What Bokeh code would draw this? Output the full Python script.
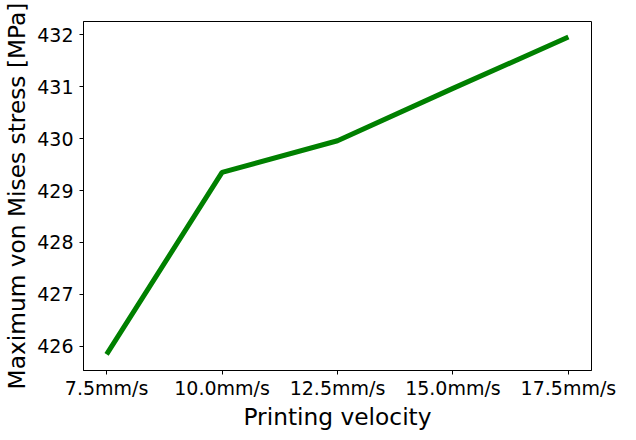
from bokeh.plotting import figure
from bokeh.models import FixedTicker, Range1d
from bokeh.embed import file_html
from bokeh.resources import INLINE

velocity = [7.5, 10.0, 12.5, 15.0, 17.5]
velocity_labels = ["7.5mm/s", "10.0mm/s", "12.5mm/s", "15.0mm/s", "17.5mm/s"]
stress = [425.84, 429.35, 429.96, 430.97, 431.96]
y_ticks = [426, 427, 428, 429, 430, 431, 432]

p = figure(width=620, height=432, output_backend="svg", toolbar_location=None,
           x_range=Range1d(7.0, 18.0), y_range=Range1d(425.53, 432.26),
           min_border_left=82, min_border_top=21, min_border_right=29, min_border_bottom=5)

p.line(velocity, stress, line_color="#008000", line_width=5)

p.grid.visible = False
p.outline_line_color = "black"
p.outline_line_width = 1
p.background_fill_color = "white"
p.border_fill_color = "white"

p.xaxis.ticker = FixedTicker(ticks=velocity)
p.xaxis.major_label_overrides = {v: l for v, l in zip(velocity, velocity_labels)}
p.yaxis.ticker = FixedTicker(ticks=y_ticks)
p.yaxis.major_label_overrides = {t: str(t) for t in y_ticks}

p.xaxis.axis_label = "Printing velocity"
p.yaxis.axis_label = "Maximum von Mises stress [MPa]"

for ax in (p.xaxis[0], p.yaxis[0]):
    ax.axis_line_color = "black"
    ax.major_tick_line_color = "black"
    ax.major_tick_in = 0
    ax.major_tick_out = 4
    ax.minor_tick_line_color = None
    ax.major_label_text_font = "DejaVu Sans"
    ax.major_label_text_font_size = "19px"
    ax.major_label_text_color = "#000000"
    ax.axis_label_text_font = "DejaVu Sans"
    ax.axis_label_text_font_size = "23.3px"
    ax.axis_label_text_font_style = "normal"
    ax.axis_label_text_color = "#000000"

p.xaxis.major_label_standoff = 2
p.xaxis.axis_label_standoff = 1
p.yaxis.major_label_standoff = 6
p.yaxis.axis_label_standoff = 4

open("out.html", "w").write(file_html(p, INLINE))
